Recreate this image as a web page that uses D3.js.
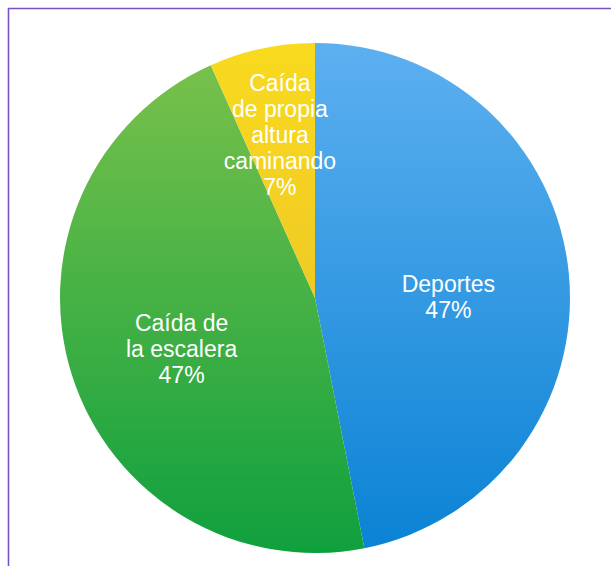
<!DOCTYPE html>
<html>
<head>
<meta charset="utf-8">
<script src="https://cdn.jsdelivr.net/npm/d3@7"></script>
<style>
  body { margin: 0; background: #fff; }
  svg { display: block; }
  .label { font-family: "Liberation Sans", Arial, Helvetica, sans-serif; font-size: 23px; fill: #fff; }
</style>
</head>
<body>
<svg id="chart"></svg>
<script>
// data
const categories = ["Deportes", "Caída de la escalera", "Caída de propia altura caminando"]
const values = [46.9, 46.4, 6.7]
const percentLabels = ["47%", "47%", "7%"]
const labelLines = [
    ["Deportes"],
    ["Caída de", "la escalera"],
    ["Caída", "de propia", "altura", "caminando"]
]

const WIDTH = 611
const HEIGHT = 566
const CX = 315
const CY = 298
const RADIUS = 255
const LABEL_R = [134, 140, 168]
const LABEL_DY = [20, 17, 9]
const LINE_H = 26

const gradColors = [
    ["#5db0f0", "#0a82d4"],
    ["#7dc24c", "#0fa03e"],
    ["#f9da1e", "#e6b92a"]
]

const svg = d3.select("#chart")
    .attr("width", WIDTH)
    .attr("height", HEIGHT)

// frame (only left and top edges are visible in the crop)
svg.append("path")
    .attr("d", `M8.5,${HEIGHT + 5} L8.5,8.5 L${WIDTH + 5},8.5`)
    .attr("fill", "none")
    .attr("stroke", "#7a50c8")
    .attr("stroke-width", 1.6)

const defs = svg.append("defs")
gradColors.forEach((c, i) => {
    const g = defs.append("linearGradient")
        .attr("id", "grad" + i)
        .attr("gradientUnits", "userSpaceOnUse")
        .attr("x1", 0).attr("y1", -RADIUS)
        .attr("x2", 0).attr("y2", RADIUS)
    g.append("stop").attr("offset", "0%").attr("stop-color", c[0])
    g.append("stop").attr("offset", "100%").attr("stop-color", c[1])
})

const pie = d3.pie().sort(null).value(d => d)
const arcs = pie(values)

const arc = d3.arc().innerRadius(0).outerRadius(RADIUS)

const chart = svg.append("g")
    .attr("transform", `translate(${CX},${CY})`)

chart.selectAll(".slice")
    .data(arcs)
    .enter()
    .append("path")
    .classed("slice", true)
    .attr("d", arc)
    .attr("fill", (d, i) => `url(#grad${i})`)

const labels = chart.selectAll(".label")
    .data(arcs)
    .enter()
    .append("text")
    .classed("label", true)
    .attr("text-anchor", "middle")
    .attr("transform", (d, i) => {
        const a = d3.arc().innerRadius(LABEL_R[i]).outerRadius(LABEL_R[i])
        const [x, y] = a.centroid(d)
        return `translate(${x},${y + LABEL_DY[i]})`
    })

labels.each(function (d, i) {
    const lines = labelLines[i].concat([percentLabels[i]])
    const start = -((lines.length - 1) * LINE_H) / 2
    d3.select(this).selectAll("tspan")
        .data(lines)
        .enter()
        .append("tspan")
        .attr("x", 0)
        .attr("y", (l, j) => start + j * LINE_H)
        .text(l => l)
})
</script>
</body>
</html>
